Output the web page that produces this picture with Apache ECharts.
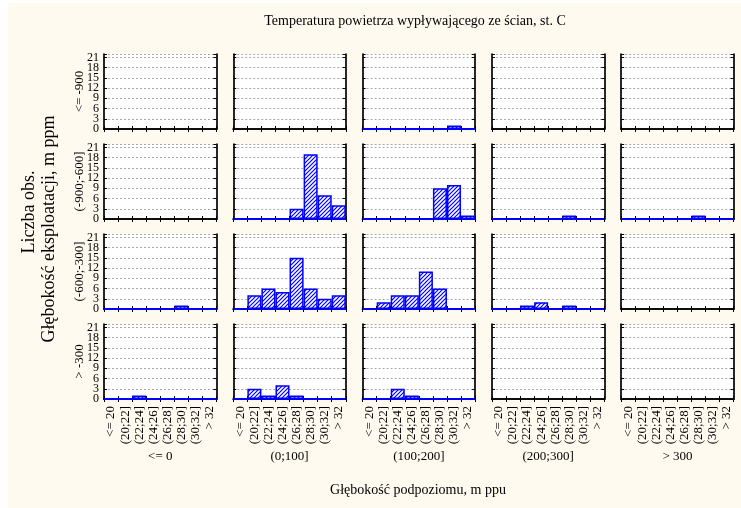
<!DOCTYPE html>
<html>
<head>
<meta charset="utf-8">
<script src="https://cdn.jsdelivr.net/npm/echarts@6/dist/echarts.min.js"></script>
<style>
  html, body { margin: 0; padding: 0; background: #ffffff; }
  #wrap { position: relative; width: 741px; height: 508px; overflow: hidden; }
  #bg { position: absolute; left: 8px; top: 3px; right: 0; bottom: 0; background: #FFFAF0; }
  #chart { position: absolute; left: 0; top: 0; width: 741px; height: 508px; }
</style>
</head>
<body>
<div id="wrap"><div id="bg"></div><div id="chart"></div></div>
<script>
// ---- data ----
const bins = ['<= 20', '(20;22]', '(22;24]', '(24;26]', '(26;28]', '(28;30]', '(30;32]', '> 32'];
const podpoziom = ['<= 0', '(0;100]', '(100;200]', '(200;300]', '> 300'];
const eksploatacja = ['<= -900', '(-900;-600]', '(-600;-300]', '> -300'];
const yTicks = [0, 3, 6, 9, 12, 15, 18, 21];

// counts per panel: one array per row (depth of exploitation), one inner list per column
const countsLe900 = [
  [0, 0, 0, 0, 0, 0, 0, 0],
  [0, 0, 0, 0, 0, 0, 0, 0],
  [0, 0, 0, 0, 0, 0, 1, 0],
  [0, 0, 0, 0, 0, 0, 0, 0],
  [0, 0, 0, 0, 0, 0, 0, 0]
];
const counts900to600 = [
  [0, 0, 0, 0, 0, 0, 0, 0],
  [0, 0, 0, 0, 3, 19, 7, 4],
  [0, 0, 0, 0, 0, 9, 10, 1],
  [0, 0, 0, 0, 0, 1, 0, 0],
  [0, 0, 0, 0, 0, 1, 0, 0]
];
const counts600to300 = [
  [0, 0, 0, 0, 0, 1, 0, 0],
  [0, 4, 6, 5, 15, 6, 3, 4],
  [0, 2, 4, 4, 11, 6, 0, 0],
  [0, 0, 1, 2, 0, 1, 0, 0],
  [0, 0, 0, 0, 0, 0, 0, 0]
];
const countsGt300 = [
  [0, 0, 1, 0, 0, 0, 0, 0],
  [0, 3, 1, 4, 1, 0, 0, 0],
  [0, 0, 3, 1, 0, 0, 0, 0],
  [0, 0, 0, 0, 0, 0, 0, 0],
  [0, 0, 0, 0, 0, 0, 0, 0]
];
const rows = [countsLe900, counts900to600, counts600to300, countsGt300];

// ---- styling / layout ----
const FONT = '"Liberation Serif", "Times New Roman", serif';
const BLUE = '#0000ff';
const colLeft0 = 104, colStep = 129.3, panelW = 112.5;
const rowTop0 = 54, rowStep = 90, panelH = 75;

const pc = document.createElement('canvas');
pc.width = 4; pc.height = 4;
const ctx = pc.getContext('2d');
ctx.fillStyle = '#ffffff';
ctx.fillRect(0, 0, 4, 4);
ctx.strokeStyle = BLUE;
ctx.lineWidth = 1.2;
ctx.beginPath();
ctx.moveTo(0, 4); ctx.lineTo(4, 0);
ctx.moveTo(-1, 1); ctx.lineTo(1, -1);
ctx.moveTo(3, 5); ctx.lineTo(5, 3);
ctx.stroke();
const hatch = { image: pc, repeat: 'repeat' };

const grid = [], xAxis = [], yAxis = [], series = [], graphic = [];
const labelAxes = [];
let gi = 0;
rows.forEach((row, r) => {
  row.forEach((vals, c) => {
    const left = colLeft0 + c * colStep;
    const top = rowTop0 + r * rowStep;
    grid.push({ left: left, top: top, width: panelW, height: panelH,
      show: true, backgroundColor: '#ffffff', borderWidth: 0 });
    const axLine = { show: true, lineStyle: { color: '#000000', width: 1.7 } };
    const tick = { show: true, inside: true, length: 3, interval: 0, lineStyle: { color: '#000000', width: 1 } };
    xAxis.push({
      type: 'category', gridIndex: gi, data: bins, position: 'bottom', boundaryGap: true,
      axisLine: axLine, axisTick: tick,
      axisLabel: { show: r === rows.length - 1, interval: 0, rotate: 90, margin: 7,
        fontFamily: FONT, fontSize: 13, lineHeight: 12, color: '#000' },
      splitLine: { show: false }
    });
    xAxis.push({
      type: 'category', gridIndex: gi, data: bins, position: 'top', boundaryGap: true,
      axisLine: axLine, axisTick: tick, axisLabel: { show: false }, splitLine: { show: false }
    });
    const ymax = 22;
    yAxis.push({
      type: 'value', gridIndex: gi, min: yTicks[0], max: ymax, interval: 3, position: 'left',
      axisLine: axLine, axisTick: tick,
      axisLabel: { show: false },
      splitLine: { show: true, lineStyle: { color: '#a8a8a8', width: 1, type: [2, 2] } }
    });
    if (c === 0) labelAxes.push({ yAxisIndex: 2 * gi, left: left });
    yAxis.push({
      type: 'value', gridIndex: gi, min: yTicks[0], max: ymax, interval: 3, position: 'right',
      axisLine: axLine, axisTick: tick, axisLabel: { show: false }, splitLine: { show: false }
    });
    const hasData = vals.some(v => v > 0);
    const s = {
      type: 'bar', xAxisIndex: 2 * gi, yAxisIndex: 2 * gi,
      data: vals.map(v => (v > 0 ? v : '-')),
      barCategoryGap: '0%', barGap: '0%',
      itemStyle: { color: hatch, borderColor: BLUE, borderWidth: 1.5 },
      emphasis: { disabled: true }, silent: true, animation: false
    };
    if (hasData) {
      s.markLine = { silent: true, symbol: ['none', 'none'], label: { show: false },
        lineStyle: { color: BLUE, width: 2, type: 'solid' }, animation: false,
        data: [{ yAxis: 0 }] };
    }
    series.push(s);
    gi++;
  });
});

// row labels
eksploatacja.forEach((t, r) => {
  graphic.push({ type: 'text', x: 80, y: rowTop0 + r * rowStep + panelH / 2, rotation: Math.PI / 2,
    style: { text: t, fontFamily: FONT, fontSize: 13, fill: '#000', align: 'center', verticalAlign: 'middle' } });
});
// column labels
podpoziom.forEach((t, c) => {
  graphic.push({ type: 'text', x: colLeft0 + c * colStep + panelW / 2, y: 457,
    style: { text: t, fontFamily: FONT, fontSize: 13, fill: '#000', align: 'center', verticalAlign: 'middle' } });
});
// titles
graphic.push({ type: 'text', x: 415, y: 21,
  style: { text: 'Temperatura powietrza wypływającego ze ścian, st. C', fontFamily: FONT, fontSize: 14,
    fill: '#000', align: 'center', verticalAlign: 'middle' } });
graphic.push({ type: 'text', x: 418, y: 490,
  style: { text: 'Głębokość podpoziomu, m ppu', fontFamily: FONT, fontSize: 14,
    fill: '#000', align: 'center', verticalAlign: 'middle' } });
graphic.push({ type: 'text', x: 29, y: 212, rotation: Math.PI / 2,
  style: { text: 'Liczba obs.', fontFamily: FONT, fontSize: 18,
    fill: '#000', align: 'center', verticalAlign: 'middle' } });
graphic.push({ type: 'text', x: 49, y: 229, rotation: Math.PI / 2,
  style: { text: 'Głębokość eksploatacji, m ppm', fontFamily: FONT, fontSize: 18,
    fill: '#000', align: 'center', verticalAlign: 'middle' } });

const chart = echarts.init(document.getElementById('chart'), null, { renderer: 'canvas' });
chart.setOption({
  animation: false,
  grid: grid, xAxis: xAxis, yAxis: yAxis, series: series, graphic: graphic
});

// y tick labels of the first column, positioned through the axis scale
const tickLabels = [];
labelAxes.forEach(a => {
  yTicks.forEach(v => {
    const py = chart.convertToPixel({ yAxisIndex: a.yAxisIndex }, v);
    tickLabels.push({ type: 'text', x: a.left - 5, y: py,
      style: { text: String(v), fontFamily: FONT, fontSize: 12, fill: '#000', align: 'right', verticalAlign: 'middle' } });
  });
});
chart.setOption({ graphic: graphic.concat(tickLabels) });
</script>
</body>
</html>
